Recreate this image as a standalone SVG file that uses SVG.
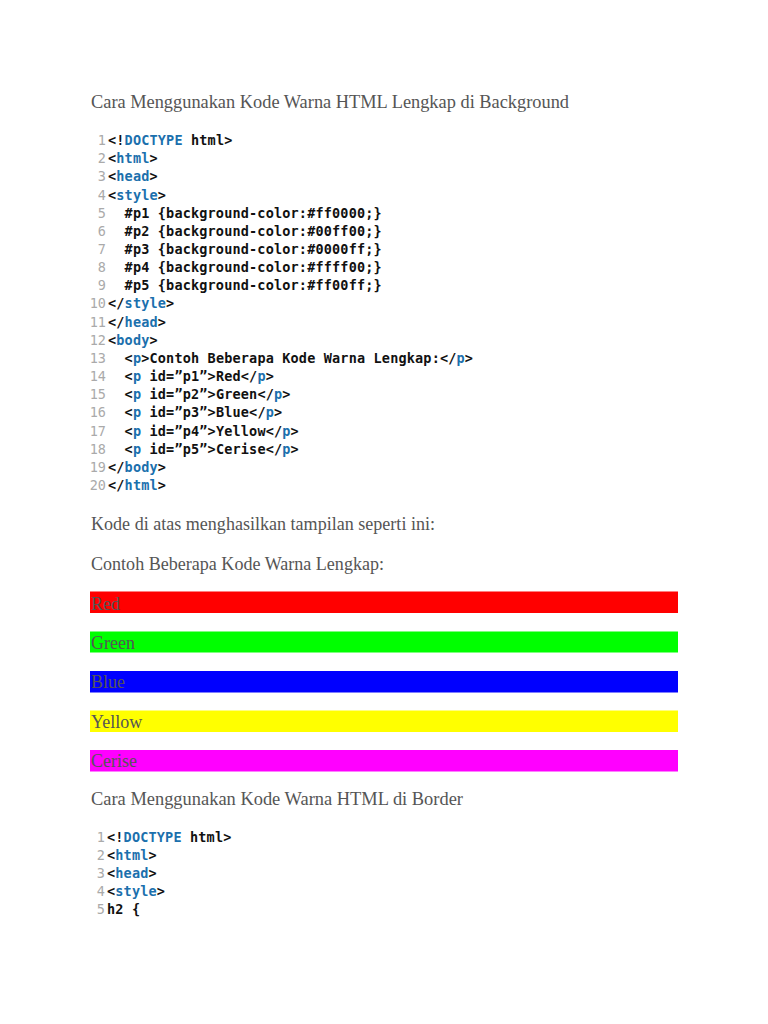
<svg xmlns="http://www.w3.org/2000/svg" width="768" height="1024" viewBox="0 0 768 1024" xml:space="preserve">
<style>
.bg{fill:#ffffff}
.serif{font-family:"Liberation Serif","Times New Roman",serif;fill:#555555;font-size:18px}
.code{font-family:"DejaVu Sans Mono","Liberation Mono",monospace;font-weight:bold;font-size:13.5px;letter-spacing:0.17px;fill:#111111;white-space:pre}
.num{font-family:"DejaVu Sans Mono","Liberation Mono",monospace;font-size:13.5px;fill:#aaaaaa;text-anchor:end}
.t{fill:#1b70ad}
.bartext{font-family:"Liberation Serif","Times New Roman",serif;fill:#555555;font-size:18px}
</style>
<rect class="bg" x="0" y="0" width="768" height="1024"/>

<g id="title1">
<text class="serif" x="91" y="108" textLength="478" lengthAdjust="spacingAndGlyphs">Cara Menggunakan Kode Warna HTML Lengkap di Background</text>
</g>

<g id="code1">
<text class="num" x="106" y="145">1</text>
<text class="num" x="106" y="163.2">2</text>
<text class="num" x="106" y="181.3">3</text>
<text class="num" x="106" y="199.5">4</text>
<text class="num" x="106" y="217.6">5</text>
<text class="num" x="106" y="235.8">6</text>
<text class="num" x="106" y="254">7</text>
<text class="num" x="106" y="272.1">8</text>
<text class="num" x="106" y="290.3">9</text>
<text class="num" x="106" y="308.4">10</text>
<text class="num" x="106" y="326.6">11</text>
<text class="num" x="106" y="344.8">12</text>
<text class="num" x="106" y="362.9">13</text>
<text class="num" x="106" y="381.1">14</text>
<text class="num" x="106" y="399.2">15</text>
<text class="num" x="106" y="417.4">16</text>
<text class="num" x="106" y="435.6">17</text>
<text class="num" x="106" y="453.7">18</text>
<text class="num" x="106" y="471.9">19</text>
<text class="num" x="106" y="490">20</text>

<text class="code" x="108" y="145">&lt;!<tspan class="t">DOCTYPE</tspan> html&gt;</text>
<text class="code" x="108" y="163.2">&lt;<tspan class="t">html</tspan>&gt;</text>
<text class="code" x="108" y="181.3">&lt;<tspan class="t">head</tspan>&gt;</text>
<text class="code" x="108" y="199.5">&lt;<tspan class="t">style</tspan>&gt;</text>
<text class="code" x="108" y="217.6">  #p1 {background-color:#ff0000;}</text>
<text class="code" x="108" y="235.8">  #p2 {background-color:#00ff00;}</text>
<text class="code" x="108" y="254">  #p3 {background-color:#0000ff;}</text>
<text class="code" x="108" y="272.1">  #p4 {background-color:#ffff00;}</text>
<text class="code" x="108" y="290.3">  #p5 {background-color:#ff00ff;}</text>
<text class="code" x="108" y="308.4">&lt;/<tspan class="t">style</tspan>&gt;</text>
<text class="code" x="108" y="326.6">&lt;/<tspan class="t">head</tspan>&gt;</text>
<text class="code" x="108" y="344.8">&lt;<tspan class="t">body</tspan>&gt;</text>
<text class="code" x="108" y="362.9">  &lt;<tspan class="t">p</tspan>&gt;Contoh Beberapa Kode Warna Lengkap:&lt;/<tspan class="t">p</tspan>&gt;</text>
<text class="code" x="108" y="381.1">  &lt;<tspan class="t">p</tspan> id=”p1”&gt;Red&lt;/<tspan class="t">p</tspan>&gt;</text>
<text class="code" x="108" y="399.2">  &lt;<tspan class="t">p</tspan> id=”p2”&gt;Green&lt;/<tspan class="t">p</tspan>&gt;</text>
<text class="code" x="108" y="417.4">  &lt;<tspan class="t">p</tspan> id=”p3”&gt;Blue&lt;/<tspan class="t">p</tspan>&gt;</text>
<text class="code" x="108" y="435.6">  &lt;<tspan class="t">p</tspan> id=”p4”&gt;Yellow&lt;/<tspan class="t">p</tspan>&gt;</text>
<text class="code" x="108" y="453.7">  &lt;<tspan class="t">p</tspan> id=”p5”&gt;Cerise&lt;/<tspan class="t">p</tspan>&gt;</text>
<text class="code" x="108" y="471.9">&lt;/<tspan class="t">body</tspan>&gt;</text>
<text class="code" x="108" y="490">&lt;/<tspan class="t">html</tspan>&gt;</text>
</g>

<g id="result-text">
<text class="serif" x="91" y="530" textLength="344" lengthAdjust="spacingAndGlyphs">Kode di atas menghasilkan tampilan seperti ini:</text>
<text class="serif" x="91" y="570" textLength="293" lengthAdjust="spacingAndGlyphs">Contoh Beberapa Kode Warna Lengkap:</text>
</g>

<g id="bar-red">
<rect x="90" y="591.5" width="588" height="21.5" fill="#ff0000"/>
<text class="bartext" x="91" y="609.5">Red</text>
</g>
<g id="bar-green">
<rect x="90" y="631.5" width="588" height="21" fill="#00ff00"/>
<text class="bartext" x="91" y="648.5">Green</text>
</g>
<g id="bar-blue">
<rect x="90" y="671" width="588" height="21.5" fill="#0000ff"/>
<text class="bartext" x="91" y="688">Blue</text>
</g>
<g id="bar-yellow">
<rect x="90" y="710.5" width="588" height="21.5" fill="#ffff00"/>
<text class="bartext" x="91" y="727.5">Yellow</text>
</g>
<g id="bar-cerise">
<rect x="90" y="750" width="588" height="21.5" fill="#ff00ff"/>
<text class="bartext" x="91" y="767">Cerise</text>
</g>

<g id="title2">
<text class="serif" x="91" y="805" textLength="372" lengthAdjust="spacingAndGlyphs">Cara Menggunakan Kode Warna HTML di Border</text>
</g>

<g id="code2">
<text class="num" x="105" y="841.5">1</text>
<text class="num" x="105" y="859.7">2</text>
<text class="num" x="105" y="877.9">3</text>
<text class="num" x="105" y="896.1">4</text>
<text class="num" x="105" y="914.3">5</text>
<text class="code" x="107" y="841.5">&lt;!<tspan class="t">DOCTYPE</tspan> html&gt;</text>
<text class="code" x="107" y="859.7">&lt;<tspan class="t">html</tspan>&gt;</text>
<text class="code" x="107" y="877.9">&lt;<tspan class="t">head</tspan>&gt;</text>
<text class="code" x="107" y="896.1">&lt;<tspan class="t">style</tspan>&gt;</text>
<text class="code" x="107" y="914.3">h2 {</text>
</g>
</svg>
